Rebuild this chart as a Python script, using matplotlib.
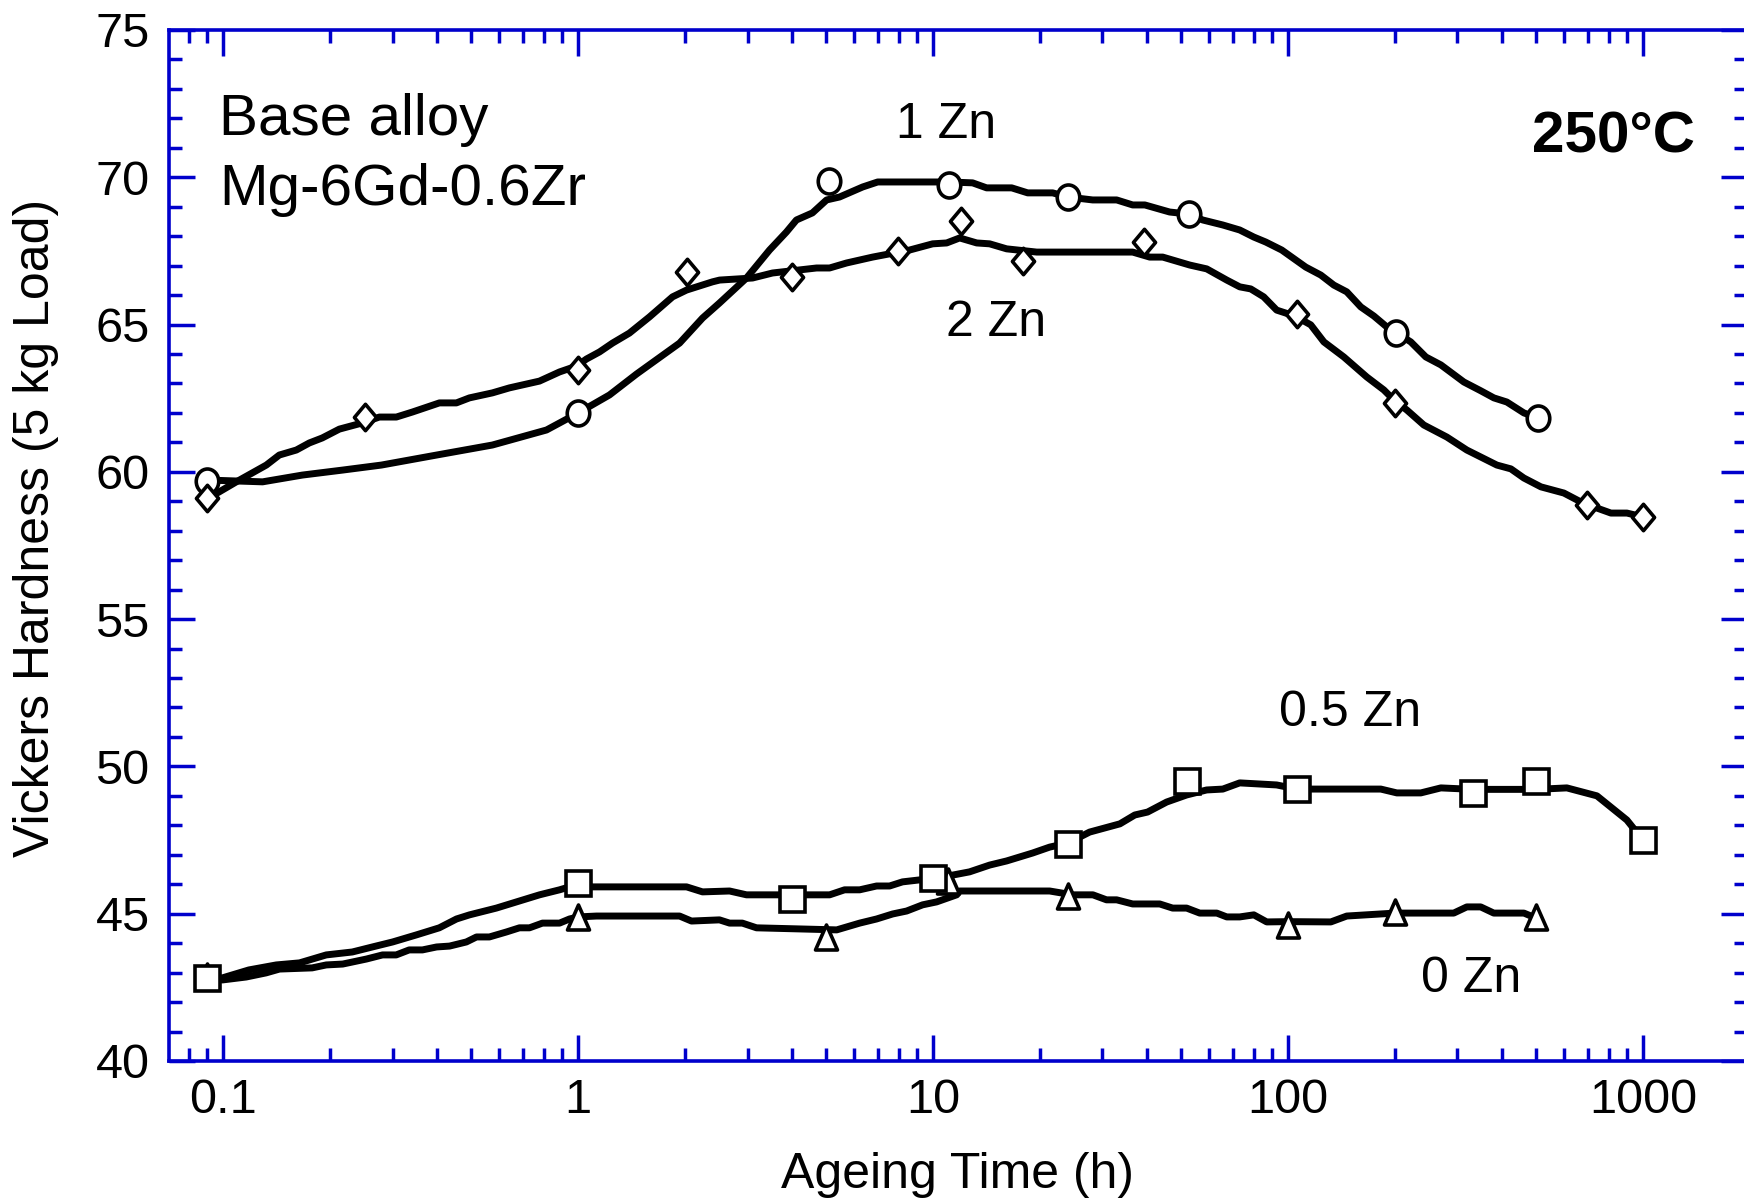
import matplotlib
matplotlib.use('Agg')
import matplotlib.pyplot as plt
from matplotlib.path import Path
from matplotlib.transforms import Affine2D
from matplotlib.ticker import FixedLocator, NullFormatter, FixedFormatter

plt.rcParams['font.family'] = ['Liberation Sans', 'DejaVu Sans']

# ---------------- data ----------------
# measured points (markers)
t_1zn = [0.09, 1, 5.08, 11.1, 24, 52.5, 202, 506]
h_1zn = [59.7, 62.0, 69.88, 69.75, 69.34, 68.74, 64.71, 61.83]

t_2zn = [0.09, 0.25, 1, 2.02, 4, 7.94, 11.96, 17.9, 39.2, 105.9, 200, 695, 1000]
h_2zn = [59.12, 61.86, 63.46, 66.78, 66.62, 67.5, 68.52, 67.16, 67.8, 65.35, 62.33, 58.87, 58.48]

t_05zn = [0.09, 1, 4, 10, 24, 52, 106, 332, 500, 1000]
h_05zn = [42.81, 46.05, 45.49, 46.2, 47.36, 49.52, 49.22, 49.09, 49.52, 47.5]

t_0zn = [0.09, 1, 5, 11, 24, 100, 200, 500]
h_0zn = [42.9, 44.9, 44.2, 46.1, 45.61, 44.62, 45.05, 44.89]

# hand-drawn trend curves
tc_1zn = [0.091, 0.129, 0.167, 0.217, 0.279, 0.399, 0.573, 0.814, 1.0, 1.225, 1.46, 1.93,
          2.24, 2.50, 2.98, 3.46, 3.86, 4.12, 4.57, 5.01, 5.45, 6.33, 6.98, 11.13, 12.92,
          14.15, 16.65, 18.47, 21.72, 23.94, 28.16, 32.9, 36.5, 39.5, 46.4, 52.5, 57.5,
          65.5, 73.1, 80.1, 86.6, 96.0, 112.2, 123.7, 134.6, 146.4, 160.3, 174.5, 189.8,
          202.6, 221.8, 244.5, 269.6, 312.9, 349.4, 380.2, 413.6, 461.9, 505.8]
hc_1zn = [59.72, 59.66, 59.89, 60.06, 60.23, 60.57, 60.91, 61.42, 62.0, 62.61, 63.32, 64.37,
          65.22, 65.73, 66.58, 67.53, 68.14, 68.55, 68.79, 69.23, 69.33, 69.67, 69.84, 69.84, 69.81,
          69.64, 69.64, 69.47, 69.47, 69.33, 69.23, 69.23, 69.06, 69.06, 68.82, 68.75, 68.55,
          68.38, 68.21, 67.97, 67.80, 67.53, 66.95, 66.68, 66.34, 66.11, 65.60, 65.29, 64.92,
          64.71, 64.41, 63.90, 63.63, 63.05, 62.75, 62.51, 62.37, 62.00, 61.83]

tc_2zn = [0.0907, 0.0974, 0.1088, 0.1322, 0.1438, 0.1606, 0.1747, 0.190, 0.2123, 0.2465,
          0.2753, 0.3073, 0.341, 0.4063, 0.4537, 0.4937, 0.573, 0.640, 0.7776, 0.8855, 0.989,
          1.055, 1.148, 1.249, 1.394, 1.588, 1.844, 2.019, 2.39, 2.503, 3.099, 3.528, 4.695,
          5.108, 5.704, 6.752, 8.587, 9.97, 10.92, 11.88, 13.27, 14.43, 16.11, 19.58, 36.5,
          40.77, 44.36, 52.85, 59.0, 67.2, 73.1, 78.5, 85.4, 92.9, 104.5, 115.9, 126.2, 143.6,
          166.7, 186.2, 199.9, 216.1, 241.3, 280.3, 319.0, 387.6, 424.6, 461.9, 515.9, 598.8,
          695.4, 742, 812.5, 901.4, 1000]
hc_2zn = [59.11, 59.32, 59.66, 60.23, 60.57, 60.74, 60.98, 61.15, 61.45, 61.66,
          61.86, 61.86, 62.03, 62.34, 62.34, 62.51, 62.68, 62.85, 63.08, 63.39, 63.59,
          63.83, 64.07, 64.37, 64.71, 65.26, 65.94, 66.17, 66.45, 66.51, 66.58, 66.75, 66.92,
          66.92, 67.09, 67.29, 67.53, 67.74, 67.77, 67.94, 67.77, 67.74, 67.57, 67.46, 67.46,
          67.29, 67.29, 67.02, 66.89, 66.51, 66.28, 66.21, 65.94, 65.49, 65.29, 64.99, 64.41, 63.90,
          63.22, 62.78, 62.41, 62.10, 61.59, 61.18, 60.74, 60.23, 60.10, 59.79, 59.49, 59.28,
          58.87, 58.77, 58.60, 58.60, 58.47]

tc_05zn = [0.0907, 0.0994, 0.118, 0.141, 0.164, 0.195, 0.231, 0.263, 0.300, 0.350, 0.406,
           0.454, 0.494, 0.588, 0.670, 0.778, 0.886, 1.0, 1.097, 2.02, 2.24, 2.67, 2.98, 4.0,
           5.11, 5.63, 6.21, 6.93, 7.54, 8.20, 10.0, 11.35, 12.67, 14.43, 16.11, 19.08, 21.30,
           24.0, 27.6, 33.6, 37.0, 40.2, 45.5, 51.8, 59.0, 65.5, 73.1, 92.9, 106, 182.6, 202.6,
           236.7, 269.6, 332, 500, 610.5, 742, 901, 1000]
hc_05zn = [42.82, 42.82, 43.09, 43.26, 43.33, 43.60, 43.70, 43.87, 44.04, 44.28, 44.52,
           44.82, 44.96, 45.19, 45.40, 45.64, 45.81, 46.0, 45.91, 45.91, 45.74, 45.77, 45.64, 45.64,
           45.64, 45.81, 45.81, 45.94, 45.94, 46.08, 46.2, 46.31, 46.42, 46.65, 46.79, 47.06, 47.26,
           47.4, 47.77, 48.05, 48.35, 48.45, 48.79, 49.03, 49.20, 49.23, 49.44, 49.37, 49.23, 49.23, 49.10,
           49.10, 49.27, 49.22, 49.22, 49.27, 49.0, 48.18, 47.5]

tc_0zn = [0.091, 0.0994, 0.116, 0.132, 0.144, 0.178, 0.195, 0.217, 0.253, 0.281, 0.307,
          0.334, 0.364, 0.399, 0.434, 0.484, 0.517, 0.562, 0.628, 0.683, 0.729, 0.793, 0.886,
          0.945, 1.0, 1.126, 1.93, 2.085, 2.50, 2.67, 2.90, 3.18, 5.35, 6.21, 6.93, 7.69, 8.42,
          9.34, 10.23, 11.65, 11.88, 21.3, 24.7, 28.2, 30.8, 32.9, 36.5, 43.5, 47.3, 51.8, 56.4,
          63.0, 67.2, 73.1, 80.1, 87.1, 100, 132, 146.4, 200, 293, 319, 349, 380, 462, 500]
hc_0zn = [42.85, 42.75, 42.85, 42.99, 43.12, 43.16, 43.26, 43.29, 43.46, 43.60, 43.60,
          43.77, 43.77, 43.87, 43.90, 44.04, 44.21, 44.21, 44.38, 44.52, 44.52, 44.68, 44.68,
          44.82, 44.89, 44.92, 44.92, 44.75, 44.79, 44.68, 44.68, 44.52, 44.45, 44.68, 44.82, 44.99, 45.09,
          45.30, 45.40, 45.64, 45.77, 45.77, 45.64, 45.64, 45.47, 45.47, 45.33, 45.33, 45.19, 45.19, 45.02,
          45.02, 44.89, 44.89, 44.96, 44.72, 44.73, 44.72, 44.92, 45.02, 45.02, 45.23, 45.23, 45.02, 45.02, 44.85]

x_major = [0.1, 1, 10, 100, 1000]
x_major_labels = ['0.1', '1', '10', '100', '1000']
y_ticks = [40, 45, 50, 55, 60, 65, 70, 75]

# ---------------- figure ----------------
fig = plt.figure(figsize=(17.44, 12.04), dpi=100)
ax = fig.add_axes([0.0969, 0.1188, 0.9048, 0.8563])

blue = '#0000cc'
lw = 5.0

# markers
ellipse = Affine2D().scale(0.9, 1.0).transform_path(Path.unit_circle())
diamond = Path([(0, 1), (0.84, 0), (0, -1), (-0.84, 0), (0, 1)], closed=True)
triangle = Path([(0, 1), (0.88, -1), (-0.88, -1), (0, 1)], closed=True)

for tc, hc in [(tc_1zn, hc_1zn), (tc_2zn, hc_2zn), (tc_05zn, hc_05zn), (tc_0zn, hc_0zn)]:
    ax.plot(tc, hc, '-', color='black', lw=lw, solid_joinstyle='round',
            solid_capstyle='round', zorder=2)

mk = dict(ls='none', mfc='white', mec='black', mew=2.6, zorder=3)
ax.plot(t_1zn, h_1zn, marker=ellipse, ms=18, **mk)
ax.plot(t_2zn, h_2zn, marker=diamond, ms=19, **mk)
ax.plot(t_0zn, h_0zn, marker=triangle, ms=18, **mk)
ax.plot(t_05zn, h_05zn, marker='s', ms=18, **mk)

ax.set_xscale('log')
ax.set_xlim(0.0703, 1964)
ax.set_ylim(40, 75)

# ticks
ax.xaxis.set_major_locator(FixedLocator(x_major))
ax.xaxis.set_major_formatter(FixedFormatter(x_major_labels))
minor = [m * d for d in [0.01, 0.1, 1, 10, 100, 1000] for m in range(2, 10)]
ax.xaxis.set_minor_locator(FixedLocator(minor))
ax.xaxis.set_minor_formatter(NullFormatter())
ax.set_yticks(y_ticks)
ax.set_yticks(range(40, 76), minor=True)

ax.tick_params(which='both', direction='in', top=True, right=True, color=blue,
               width=2.5, labelsize=35, labelcolor='black')
ax.tick_params(which='major', length=18.5)
ax.tick_params(which='minor', length=9.5)
ax.tick_params(axis='x', which='major', pad=12)
ax.tick_params(axis='y', which='major', pad=14)

for s in ax.spines.values():
    s.set_color(blue)
    s.set_linewidth(2.6)

# texts
ax.text(0.0317, 0.8982, 'Base alloy', transform=ax.transAxes, fontsize=42, va='baseline', ha='left')
ax.text(0.0317, 0.8303, 'Mg-6Gd-0.6Zr', transform=ax.transAxes, fontsize=42, va='baseline', ha='left')
ax.text(0.967, 0.8807, '250°C', transform=ax.transAxes, fontsize=42, fontweight='bold',
        va='baseline', ha='right')
ax.text(0.4607, 0.8952, '1 Zn', transform=ax.transAxes, fontsize=36, va='baseline', ha='left')
ax.text(0.4924, 0.7032, '2 Zn', transform=ax.transAxes, fontsize=36, va='baseline', ha='left')
ax.text(0.7034, 0.3249, '0.5 Zn', transform=ax.transAxes, fontsize=36, va='baseline', ha='left')
ax.text(0.7934, 0.0669, '0 Zn', transform=ax.transAxes, fontsize=36, va='baseline', ha='left')

fig.text(957 / 1744, 1 - 1188 / 1204, 'Ageing Time (h)', fontsize=36, ha='center', va='baseline')
fig.text(36 / 1744, 1 - 528 / 1204, 'Vickers Hardness (5 kg Load)', fontsize=36,
         rotation=90, ha='center', va='center')

fig.savefig('out.png', dpi=100)
